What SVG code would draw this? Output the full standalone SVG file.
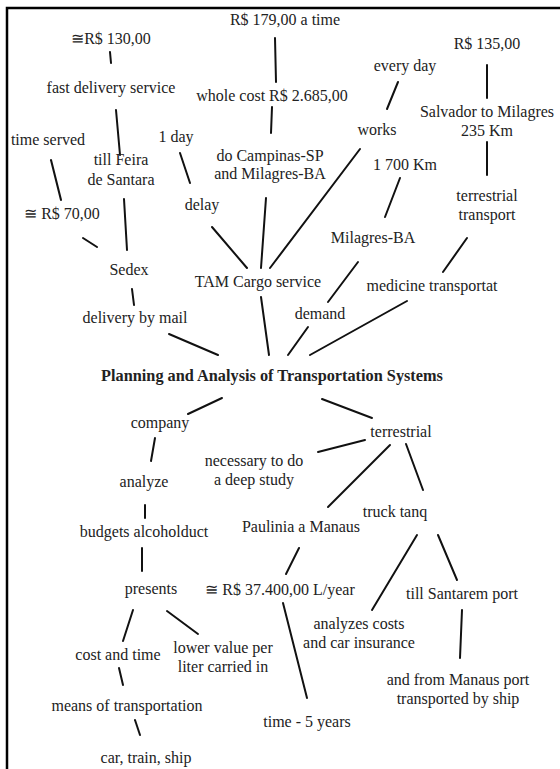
<svg xmlns="http://www.w3.org/2000/svg" width="560" height="769" viewBox="0 0 560 769">
<style>
text{font-family:"Liberation Serif","Times New Roman",serif;font-size:16px;fill:#222;text-anchor:middle}
.t{font-weight:bold;font-size:16.3px}
#connectors line{stroke:#111;stroke-width:2;stroke-linecap:round}
.frame{stroke:#000;stroke-width:2.5;fill:none}
</style>
<rect width="560" height="769" fill="#fff"/>
<path class="frame" d="M7,769 V8 H560"/>
<g id="connectors">
<line x1="275" y1="38" x2="276" y2="82"/>
<line x1="110" y1="52" x2="111" y2="63"/>
<line x1="116" y1="110" x2="120" y2="155"/>
<line x1="272" y1="107" x2="271" y2="133"/>
<line x1="398" y1="82" x2="387" y2="109"/>
<line x1="487" y1="65" x2="487" y2="98"/>
<line x1="487" y1="142" x2="487" y2="175"/>
<line x1="51" y1="160" x2="61" y2="200"/>
<line x1="180" y1="153" x2="190" y2="183"/>
<line x1="360" y1="149" x2="270" y2="268"/>
<line x1="400" y1="178" x2="385" y2="217"/>
<line x1="124" y1="199" x2="127" y2="250"/>
<line x1="83" y1="238" x2="97" y2="247"/>
<line x1="212" y1="227" x2="247" y2="268"/>
<line x1="266" y1="198" x2="261" y2="268"/>
<line x1="467" y1="238" x2="443" y2="272"/>
<line x1="358" y1="262" x2="328" y2="302"/>
<line x1="132" y1="289" x2="134" y2="305"/>
<line x1="261" y1="297" x2="269" y2="355"/>
<line x1="169" y1="334" x2="218" y2="355"/>
<line x1="308" y1="327" x2="288" y2="355"/>
<line x1="407" y1="301" x2="310" y2="355"/>
<line x1="222" y1="398" x2="188" y2="414"/>
<line x1="322" y1="399" x2="372" y2="418"/>
<line x1="365" y1="440" x2="318" y2="452"/>
<line x1="390" y1="445" x2="328" y2="507"/>
<line x1="406" y1="444" x2="423" y2="490"/>
<line x1="155" y1="438" x2="151" y2="461"/>
<line x1="145" y1="505" x2="145" y2="518"/>
<line x1="142" y1="548" x2="142" y2="571"/>
<line x1="299" y1="548" x2="286" y2="574"/>
<line x1="417" y1="535" x2="372" y2="610"/>
<line x1="438" y1="535" x2="457" y2="580"/>
<line x1="133" y1="610" x2="123" y2="641"/>
<line x1="167" y1="611" x2="198" y2="634"/>
<line x1="283" y1="603" x2="307" y2="698"/>
<line x1="462" y1="610" x2="460" y2="658"/>
<line x1="119" y1="668" x2="123" y2="685"/>
<line x1="135" y1="720" x2="140" y2="735"/>
</g>
<g id="n-r179"><text x="285" y="25">R$ 179,00 a time</text></g>
<g id="n-r130"><text x="111" y="44">≅R$ 130,00</text></g>
<g id="n-fast"><text x="111" y="93">fast delivery service</text></g>
<g id="n-whole"><text x="272" y="101">whole cost R$ 2.685,00</text></g>
<g id="n-everyday"><text x="405" y="71">every day</text></g>
<g id="n-r135"><text x="487" y="49">R$ 135,00</text></g>
<g id="n-salvador"><text x="487" y="117">Salvador to Milagres</text><text x="487" y="136">235 Km</text></g>
<g id="n-works"><text x="377" y="135">works</text></g>
<g id="n-timeserved"><text x="48" y="145">time served</text></g>
<g id="n-1day"><text x="176" y="142">1 day</text></g>
<g id="n-feira"><text x="121" y="165">till Feira</text><text x="121" y="185">de Santara</text></g>
<g id="n-campinas"><text x="270" y="161">do Campinas-SP</text><text x="270" y="179">and Milagres-BA</text></g>
<g id="n-1700"><text x="405" y="170">1 700 Km</text></g>
<g id="n-r70"><text x="62" y="219">≅ R$ 70,00</text></g>
<g id="n-delay"><text x="202" y="210">delay</text></g>
<g id="n-terrtransport"><text x="487" y="201">terrestrial</text><text x="487" y="220">transport</text></g>
<g id="n-milagres"><text x="373" y="243">Milagres-BA</text></g>
<g id="n-sedex"><text x="129" y="275">Sedex</text></g>
<g id="n-tam"><text x="258" y="287">TAM Cargo service</text></g>
<g id="n-medicine"><text x="432" y="291">medicine transportat</text></g>
<g id="n-mail"><text x="135" y="323">delivery by mail</text></g>
<g id="n-demand"><text x="320" y="319">demand</text></g>
<g id="n-title"><text class="t" x="272" y="381">Planning and Analysis of Transportation Systems</text></g>
<g id="n-company"><text x="160" y="428">company</text></g>
<g id="n-terrestrial"><text x="401" y="437">terrestrial</text></g>
<g id="n-necessary"><text x="254" y="466">necessary to do</text><text x="254" y="485">a deep study</text></g>
<g id="n-analyze"><text x="144" y="487">analyze</text></g>
<g id="n-truck"><text x="395" y="517">truck tanq</text></g>
<g id="n-paulinia"><text x="301" y="532">Paulinia a Manaus</text></g>
<g id="n-budgets"><text x="144" y="537">budgets alcoholduct</text></g>
<g id="n-presents"><text x="151" y="594">presents</text></g>
<g id="n-r37400"><text x="280" y="595">≅ R$ 37.400,00 L/year</text></g>
<g id="n-santarem"><text x="462" y="599">till Santarem port</text></g>
<g id="n-costtime"><text x="118" y="660">cost and time</text></g>
<g id="n-lower"><text x="223" y="653">lower value per</text><text x="223" y="672">liter carried in</text></g>
<g id="n-analyzes"><text x="359" y="629">analyzes costs</text><text x="359" y="648">and car insurance</text></g>
<g id="n-manausport"><text x="458" y="685">and from Manaus port</text><text x="458" y="704">transported by ship</text></g>
<g id="n-means"><text x="127" y="711">means of transportation</text></g>
<g id="n-5years"><text x="307" y="727">time - 5 years</text></g>
<g id="n-car"><text x="146" y="763">car, train, ship</text></g>
</svg>
